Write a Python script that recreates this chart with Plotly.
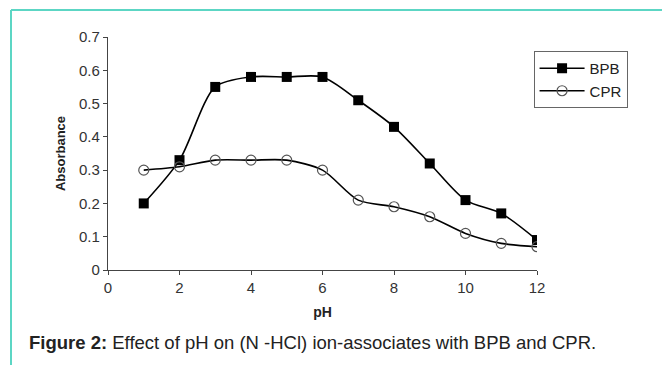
import plotly.graph_objects as go

ph = [1, 2, 3, 4, 5, 6, 7, 8, 9, 10, 11, 12]
bpb = [0.20, 0.33, 0.55, 0.58, 0.58, 0.58, 0.51, 0.43, 0.32, 0.21, 0.17, 0.09]
cpr = [0.30, 0.31, 0.33, 0.33, 0.33, 0.30, 0.21, 0.19, 0.16, 0.11, 0.08, 0.07]
yticks = [0, 0.1, 0.2, 0.3, 0.4, 0.5, 0.6, 0.7]
ytick_text = ["0", "0.1", "0.2", "0.3", "0.4", "0.5", "0.6", "0.7"]
xticks = [0, 2, 4, 6, 8, 10, 12]

W, H = 662, 365
L, R, T, B = 108, 125, 37, 95
pw, ph_ = W - L - R, H - T - B

def px(x):
    return (x - L) / pw

def py(y):
    return (H - B - y) / ph_

fig = go.Figure()
fig.add_trace(go.Scatter(
    x=ph, y=bpb, name="BPB", mode="lines+markers",
    line=dict(color="black", width=1.6, shape="spline", smoothing=0.8),
    marker=dict(symbol="square", size=10, color="black"),
))
fig.add_trace(go.Scatter(
    x=ph, y=cpr, name="CPR", mode="lines+markers",
    line=dict(color="black", width=1.6, shape="spline", smoothing=0.8),
    marker=dict(symbol="circle-open", size=10, color="#555555", line=dict(width=1.2)),
))

font = "Liberation Sans, Arial, sans-serif"
fig.update_layout(
    width=W, height=H,
    margin=dict(l=L, r=R, t=T, b=B),
    paper_bgcolor="white", plot_bgcolor="white",
    font=dict(family=font, color="#333333"),
    showlegend=True,
    legend=dict(x=0.992, y=0.94, xanchor="left", yanchor="top",
                bordercolor="#666666", borderwidth=1, bgcolor="white",
                font=dict(size=15, color="#222222"), tracegroupgap=0,
                itemwidth=45),
    xaxis=dict(range=[0, 12], tickvals=xticks, showline=True, linecolor="#444444",
               linewidth=1.2, ticks="outside", ticklen=4, tickcolor="#444444",
               showgrid=False, zeroline=False, tickfont=dict(size=15, color="#333333"),
               title=dict(text="<b>pH</b>", font=dict(size=14, color="#222222"), standoff=12)),
    yaxis=dict(range=[0, 0.7], tickvals=yticks, ticktext=ytick_text, showline=True,
               linecolor="#444444", linewidth=1.2, ticks="outside", ticklen=4,
               tickcolor="#444444", showgrid=False, zeroline=False,
               tickfont=dict(size=15, color="#333333"),
               title=dict(text="<b>Absorbance</b>", font=dict(size=13, color="#222222"), standoff=10)),
)

teal = "#5cd6c4"
fig.add_shape(type="line", xref="paper", yref="paper", x0=px(11), x1=px(W + 5),
              y0=py(10), y1=py(10), line=dict(color=teal, width=2))
fig.add_shape(type="line", xref="paper", yref="paper", x0=px(11), x1=px(11),
              y0=py(10), y1=py(H + 5), line=dict(color=teal, width=2))

fig.add_annotation(xref="paper", yref="paper", x=px(27), y=py(342),
                   xanchor="left", yanchor="middle", showarrow=False,
                   text="<b>Figure 2:</b> Effect of pH on (N -HCl) ion-associates with BPB and CPR.",
                   font=dict(family=font, size=18.5, color="#222222"))

fig.write_html("out.html")
